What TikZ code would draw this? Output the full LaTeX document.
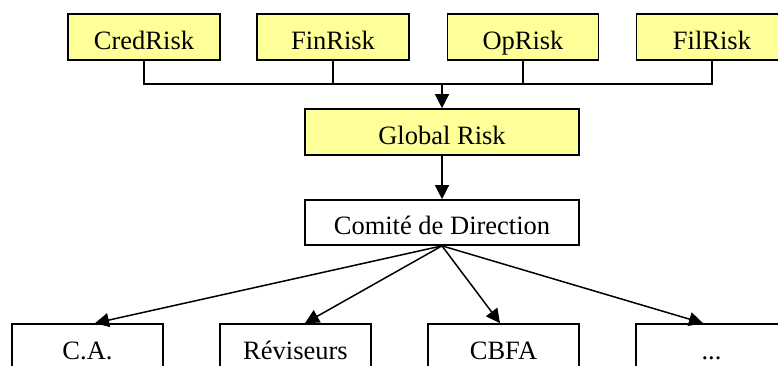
\documentclass[tikz,border=0pt]{standalone}
\usepackage{fontspec}
\setmainfont{Liberation Serif}
\usetikzlibrary{arrows.meta}
\definecolor{boxyellow}{HTML}{FFFF99}
\begin{document}
\begin{tikzpicture}[x=1pt,y=-1pt,
  box/.style={draw=black,line width=1.7pt,minimum height=46pt,inner sep=0pt,
    text height=24.5pt,text depth=0pt,
    font=\fontsize{26.5}{30}\selectfont},
  ybox/.style={box,fill=boxyellow},
  wire/.style={line width=1.5pt},
  arr/.style={line width=1.5pt,-{Triangle[length=14pt,width=14pt]}}]
\useasboundingbox (0,0) rectangle (778,365);
\clip (0,0) rectangle (778,365);
\node[ybox,minimum width=152pt] (cred) at (144,37) {CredRisk};
\node[ybox,minimum width=152pt] (fin) at (333,37) {FinRisk};
\node[ybox,minimum width=151pt] (op) at (523,37) {OpRisk};
\node[ybox,minimum width=151pt] (fil) at (712,37) {FilRisk};
\node[ybox,minimum width=274pt] (glob) at (442,132) {Global Risk};
\node[box,minimum width=274pt,minimum height=45pt] (com) at (442,222.5) {Comité de Direction};
\node[box,minimum width=151pt] (ca) at (87.5,347) {C.A.};
\node[box,minimum width=151pt] (rev) at (295.5,347) {Réviseurs};
\node[box,minimum width=151pt] (cbfa) at (503.5,347) {CBFA};
\node[box,minimum width=151pt] (etc) at (711.5,347) {...};
\coordinate (bus) at (442,84);
\draw[wire] (cred.south) |- (bus) -| (fil.south);
\draw[wire] (fin.south) -- (fin.south |- bus);
\draw[wire] (op.south) -- (op.south |- bus);
\draw[arr] (bus) -- (glob.north);
\draw[arr] (glob.south) -- (com.north);
\draw[arr] (com.south) -- ([xshift=7.5pt]ca.north);
\draw[arr] (com.south) -- ([xshift=9.5pt]rev.north);
\draw[arr] (com.south) -- ([xshift=-3.5pt]cbfa.north);
\draw[arr] (com.south) -- ([xshift=-8.5pt]etc.north);
\end{tikzpicture}
\end{document}
